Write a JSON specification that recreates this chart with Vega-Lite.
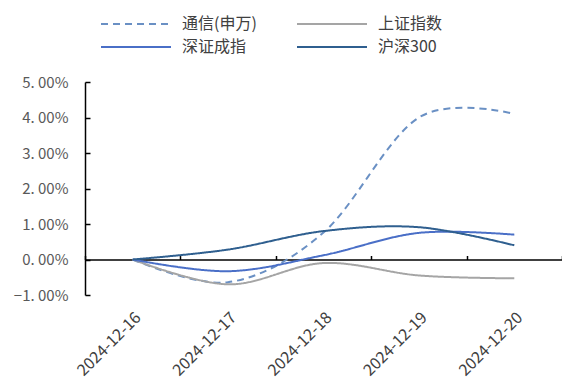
{
  "$schema": "https://vega.github.io/schema/vega-lite/v6.json",
  "width": 477,
  "height": 213,
  "autosize": "none",
  "padding": {"left": 85, "top": 82, "right": 0, "bottom": 92},
  "config": {"view": {"stroke": null}, "font": "Noto Sans CJK SC"},
  "data": {"values": [
    {"date": "2024-12-16", "series": "通信(申万)", "value": 0},
    {"date": "2024-12-17", "series": "通信(申万)", "value": -0.0064},
    {"date": "2024-12-18", "series": "通信(申万)", "value": 0.0076},
    {"date": "2024-12-19", "series": "通信(申万)", "value": 0.040},
    {"date": "2024-12-20", "series": "通信(申万)", "value": 0.041},
    {"date": "2024-12-16", "series": "上证指数", "value": 0},
    {"date": "2024-12-17", "series": "上证指数", "value": -0.0070},
    {"date": "2024-12-18", "series": "上证指数", "value": -0.0010},
    {"date": "2024-12-19", "series": "上证指数", "value": -0.0045},
    {"date": "2024-12-20", "series": "上证指数", "value": -0.0053},
    {"date": "2024-12-16", "series": "深证成指", "value": 0},
    {"date": "2024-12-17", "series": "深证成指", "value": -0.0033},
    {"date": "2024-12-18", "series": "深证成指", "value": 0.0012},
    {"date": "2024-12-19", "series": "深证成指", "value": 0.0075},
    {"date": "2024-12-20", "series": "深证成指", "value": 0.0070},
    {"date": "2024-12-16", "series": "沪深300", "value": 0},
    {"date": "2024-12-17", "series": "沪深300", "value": 0.0028},
    {"date": "2024-12-18", "series": "沪深300", "value": 0.0080},
    {"date": "2024-12-19", "series": "沪深300", "value": 0.0091},
    {"date": "2024-12-20", "series": "沪深300", "value": 0.0040}
  ]},
  "encoding": {
    "y": {
      "field": "value", "type": "quantitative",
      "scale": {"domain": [-0.01, 0.05], "nice": false, "zero": false},
      "axis": {
        "title": null, "format": ".2%", "values": [-0.01, 0, 0.01, 0.02, 0.03, 0.04, 0.05],
        "labelExpr": "replace(datum.label, '.', '. ')",
        "grid": false, "domainColor": "#000000", "domainWidth": 1.5,
        "tickColor": "#000000", "tickWidth": 1.5, "tickSize": -5,
        "labelPadding": 22, "labelFontSize": 15, "labelColor": "#595959"
      }
    },
    "color": {
      "field": "series", "type": "nominal",
      "scale": {"domain": ["通信(申万)", "上证指数", "深证成指", "沪深300"],
                "range": ["#6a90c4", "#a5a5a5", "#4a6fc7", "#2f5f8f"]},
      "legend": {
        "title": null, "orient": "none", "legendX": 15, "legendY": -69,
        "direction": "horizontal",
        "columns": 2, "columnPadding": 36, "rowPadding": 4,
        "symbolType": "M-3.5,0H3.5", "symbolSize": 400, "symbolStrokeWidth": 2,
        "symbolOffset": 25, "labelOffset": 35,
        "labelFontSize": 16, "labelColor": "#404040"
      }
    },
    "strokeDash": {
      "field": "series", "type": "nominal",
      "scale": {"domain": ["通信(申万)", "上证指数", "深证成指", "沪深300"],
                "range": [[7, 5], [1, 0], [1, 0], [1, 0]]},
      "legend": null
    }
  },
  "layer": [
    {
      "mark": {"type": "line", "interpolate": "cardinal", "strokeWidth": 2},
      "encoding": {
        "x": {
          "field": "date", "type": "ordinal", "sort": null, "bandPosition": 0.5,
          "scale": {"type": "band", "paddingInner": 0, "paddingOuter": 0},
          "axis": {
            "orient": "bottom", "title": null, "domain": false, "ticks": false,
            "labelAngle": -45, "labelAlign": "right", "labelBaseline": "top",
            "labelPadding": 14, "labelFontSize": 16, "labelColor": "#404040"
          }
        }
      }
    },
    {
      "mark": {"type": "line", "interpolate": "cardinal", "strokeWidth": 2, "opacity": 0},
      "encoding": {
        "x": {
          "field": "date", "type": "ordinal", "sort": null, "bandPosition": 0.5,
          "scale": {"type": "band", "paddingInner": 0, "paddingOuter": 0},
          "axis": {
            "orient": "top", "offset": -177.5, "title": null, "labels": false,
            "domainColor": "#000000", "domainWidth": 1.5,
            "tickColor": "#000000", "tickWidth": 1.5, "tickSize": 4, "tickBand": "extent"
          }
        }
      }
    }
  ],
  "resolve": {"axis": {"x": "independent"}}
}
